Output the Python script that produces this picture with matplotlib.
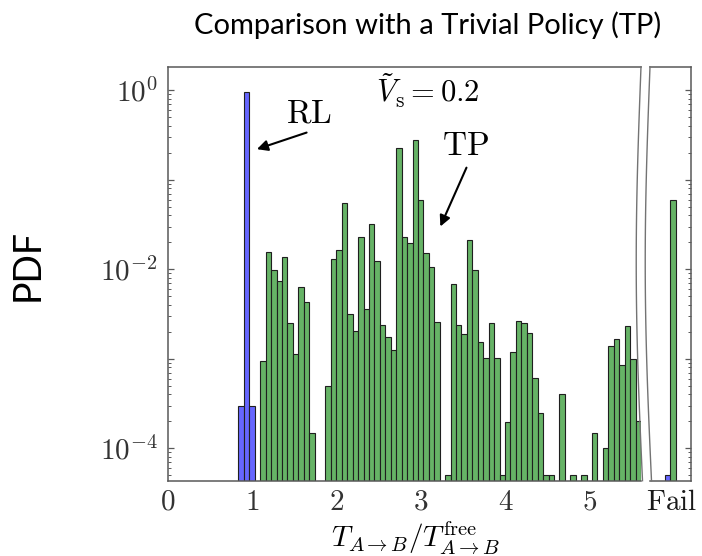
"""
Histograma log de tiempos de llegada: RL frente a una politica trivial (TP),
con un eje aparte para los episodios fallidos.
"""

import matplotlib

matplotlib.use("Agg")
import matplotlib.pyplot as plt  # noqa: E402
import numpy as np  # noqa: E402
from matplotlib.lines import Line2D  # noqa: E402

plt.rcParams["mathtext.fontset"] = "cm"

# bins: ancho constante, empiezan en 0.84
BIN_START = 0.84
BIN_WIDTH = 0.0644
N_BINS = 74

# PDF por bin (0 = bin vacio)
rl_pdf = [3.0e-4, 0.964, 3.0e-4] + [0.0] * 71

tp_pdf = [
    0.0, 0.0, 0.0, 0.0,
    9.4e-4, 0.0155, 0.0098, 0.0074, 0.0138, 0.0025, 0.00114, 0.0063, 0.0043, 1.5e-4,
    0.0, 0.0,
    5.0e-4, 0.0129, 0.0164, 0.0546, 0.00314, 0.00206, 0.0228, 0.00357, 0.0321, 0.0125,
    0.00239, 0.00174, 0.00125, 0.229, 0.0228, 0.0195, 0.279, 0.0594, 0.0151, 0.0105,
    0.0026, 0.0, 5.0e-5, 0.00686, 0.00239, 0.00189, 0.0212, 0.0098, 0.00155, 0.00101,
    0.00253, 0.00101, 5.0e-5, 1.98e-4, 0.0012, 0.00264, 0.0025, 0.00196, 6.05e-4, 2.51e-4,
    5.0e-5, 5.0e-5, 0.0, 4.0e-4, 0.0, 5.0e-5, 0.0, 5.0e-5, 0.0, 1.5e-4,
    0.0, 1.0e-4, 0.0014, 0.00165, 8.5e-4, 0.00232, 9.95e-4, 2.02e-4,
]

fail_rl = 5.0e-5
fail_tp = 0.0594

x_ticks = [0, 1, 2, 3, 4, 5]
y_tick_labels = {1e0: r"$10^{0}$", 1e-2: r"$10^{-2}$", 1e-4: r"$10^{-4}$"}

GREEN = "#66b366"
BLUE = "#6666ff"
EDGE = "#1f1f1f"
SPINE = "0.35"
YLIM = (10 ** -4.362, 10 ** 0.264)

W, H = 702, 556
fig = plt.figure(figsize=(W / 100, H / 100), dpi=100)


# posiciones en pixeles del original -> fracciones de figura
def frac_box(x0, x1, top, bottom):
    return [x0 / W, 1 - bottom / H, (x1 - x0) / W, (bottom - top) / H]


ax = fig.add_axes(frac_box(167.5, 640.5, 66.7, 480.7))
axf = fig.add_axes(frac_box(649.5, 691.0, 66.7, 480.7), sharey=ax)

edges = BIN_START + BIN_WIDTH * np.arange(N_BINS)
ax.bar(edges, tp_pdf, width=BIN_WIDTH, align="edge", color=GREEN,
       edgecolor=EDGE, linewidth=0.8)
ax.bar(edges, rl_pdf, width=BIN_WIDTH, align="edge", color=BLUE,
       edgecolor=EDGE, linewidth=0.8)

axf.bar([-BIN_WIDTH], [fail_rl], width=BIN_WIDTH, align="edge", color=BLUE,
        edgecolor=EDGE, linewidth=0.8)
axf.bar([0.0], [fail_tp], width=BIN_WIDTH, align="edge", color=GREEN,
        edgecolor=EDGE, linewidth=0.8)

ax.set_yscale("log")
ax.set_xlim(0, 5.60)
axf.set_xlim(-0.245, 0.245)

for a in (ax, axf):
    for s in a.spines.values():
        s.set_color(SPINE)
        s.set_linewidth(1.1)
ax.spines["right"].set_visible(False)
axf.spines["left"].set_visible(False)

ax.set_xticks(x_ticks, labels=[f"${t}$" for t in x_ticks])
ax.yaxis.set_major_locator(matplotlib.ticker.LogLocator(base=10, numticks=10))
ax.yaxis.set_major_formatter(matplotlib.ticker.FuncFormatter(
    lambda v, _: y_tick_labels.get(v, "")))
ax.yaxis.set_minor_locator(matplotlib.ticker.LogLocator(base=10, subs=np.arange(2, 10), numticks=10))
ax.yaxis.set_minor_formatter(matplotlib.ticker.NullFormatter())
ax.set_ylim(*YLIM)

ax.tick_params(axis="x", length=0, labelsize=21, pad=5, colors="0.2")
ax.tick_params(axis="y", which="major", direction="in", length=4, width=0.9,
               labelsize=21, pad=7, colors=SPINE, labelcolor="0.2")
ax.tick_params(axis="y", which="minor", direction="in", length=2.2, width=0.7, colors=SPINE)

axf.set_xticks([0.02], labels=[r"$\mathrm{Fail}$"])
axf.tick_params(axis="x", length=0, labelsize=21, pad=5, colors="0.1")
axf.tick_params(axis="y", which="both", left=False, right=True, labelleft=False,
                direction="in", colors=SPINE)
axf.tick_params(axis="y", which="major", length=4, width=0.9)
axf.tick_params(axis="y", which="minor", length=2.2, width=0.7)

# anotaciones
ax.text(1.675, 0.434, r"$\mathrm{RL}$", fontsize=24, ha="center", va="baseline")
ax.annotate("", xy=(1.027, 0.215), xytext=(1.678, 0.345),
            arrowprops=dict(arrowstyle="-|>", color="k", lw=1.5, mutation_scale=16))
ax.text(3.533, 0.189, r"$\mathrm{TP}$", fontsize=24, ha="center", va="baseline")
ax.annotate("", xy=(3.217, 0.0282), xytext=(3.553, 0.146),
            arrowprops=dict(arrowstyle="-|>", color="k", lw=1.5, mutation_scale=16))
ax.text(3.083, 0.721, r"$\tilde{V}_{\rm s} = 0.2$", fontsize=22, ha="center", va="baseline")

# simbolo de corte entre los dos ejes
s = np.linspace(0, 1, 80)
dev = -5.5 * np.sin(np.pi * s) + 1.5 * s
py = 66.7 + s * (480.7 - 66.7)
for base in (641.0, 650.0):
    fig.add_artist(Line2D((base + dev) / W, 1 - py / H, color="0.45", lw=1.0))

fig.text(416 / W, 1 - 546.5 / H, r"$T_{A\to B}/T^{\rm free}_{A\to B}$",
         fontsize=21, ha="center", va="baseline")
fig.text(28 / W, 1 - 265 / H, "PDF", fontsize=27, family="Lato",
         rotation=90, ha="center", va="center")
fig.text(428 / W, 1 - 25 / H, "Comparison with a Trivial Policy (TP)",
         fontsize=21, family="Lato", ha="center", va="center")

fig.savefig("out.png", dpi=100)
plt.close(fig)
